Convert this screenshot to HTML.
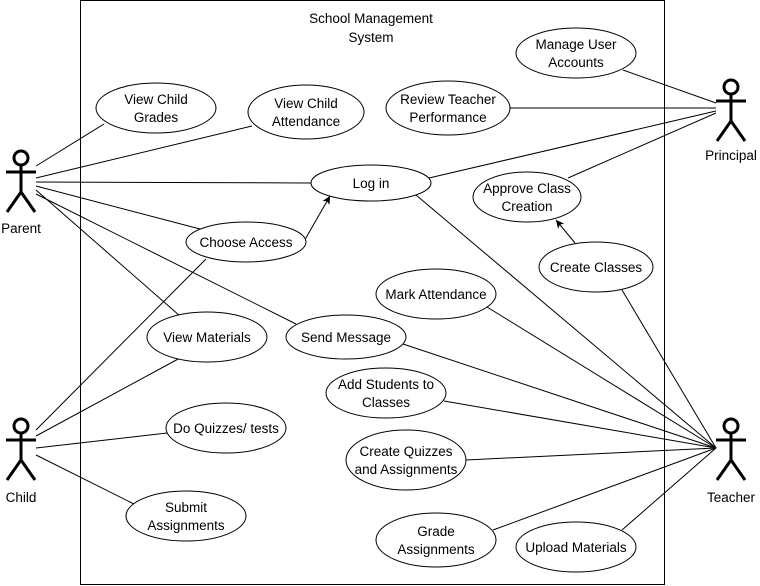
<!DOCTYPE html>
<html><head><style>
html,body{margin:0;padding:0;background:#fff}
svg{display:block}
text{font-family:"Liberation Sans",sans-serif;font-size:13.5px;fill:#000}
</style></head><body>
<svg width="760" height="586" viewBox="0 0 760 586" xmlns="http://www.w3.org/2000/svg">
<defs><marker id="a" markerWidth="10" markerHeight="10" refX="9" refY="5" orient="auto" markerUnits="userSpaceOnUse"><path d="M1,1 L9,5 L1,9 L3,5 Z" fill="#000"/></marker></defs>
<rect x="80.5" y="0.5" width="584" height="584" fill="none" stroke="#000"/>
<text x="371" y="23" text-anchor="middle">School Management</text>
<text x="371" y="42" text-anchor="middle">System</text>
<g stroke="#000" stroke-width="1" fill="none">
<!-- parent lines -->
<line x1="36" y1="166" x2="104" y2="124"/>
<line x1="36" y1="178" x2="252" y2="126"/>
<line x1="36" y1="182" x2="311" y2="183"/>
<line x1="36" y1="186" x2="200" y2="229"/>
<line x1="36" y1="190" x2="180" y2="316"/>
<line x1="36" y1="194" x2="296" y2="324"/>
<!-- child lines -->
<line x1="36" y1="430" x2="206" y2="259"/>
<line x1="36" y1="436" x2="180" y2="358"/>
<line x1="36" y1="448" x2="167" y2="433"/>
<line x1="36" y1="455" x2="134" y2="504"/>
<!-- principal -->
<line x1="716" y1="103" x2="623" y2="70"/>
<line x1="716" y1="108" x2="510" y2="108"/>
<line x1="716" y1="111" x2="429" y2="178"/>
<line x1="716" y1="113" x2="568" y2="178"/>
<!-- teacher -->
<line x1="716" y1="448" x2="416" y2="195"/>
<line x1="716" y1="448" x2="622" y2="290"/>
<line x1="716" y1="448" x2="487" y2="307"/>
<line x1="716" y1="448" x2="403" y2="344"/>
<line x1="716" y1="448" x2="444" y2="401"/>
<line x1="716" y1="448" x2="466" y2="460"/>
<line x1="716" y1="448" x2="493" y2="530"/>
<line x1="716" y1="448" x2="622" y2="530"/>
<!-- arrows -->
<line x1="303" y1="243" x2="330" y2="196" marker-end="url(#a)"/>
<line x1="575" y1="243" x2="556" y2="220" marker-end="url(#a)"/>
</g>
<g stroke="#000" fill="#fff">
<ellipse cx="156" cy="108" rx="60" ry="25"/>
<ellipse cx="306" cy="112" rx="58" ry="27"/>
<ellipse cx="576" cy="53" rx="60" ry="25"/>
<ellipse cx="448" cy="108" rx="62" ry="27"/>
<ellipse cx="371" cy="183" rx="60" ry="18"/>
<ellipse cx="527" cy="197" rx="54" ry="25"/>
<ellipse cx="246" cy="242" rx="60" ry="20"/>
<ellipse cx="596" cy="267" rx="57" ry="25"/>
<ellipse cx="436" cy="294" rx="60" ry="25"/>
<ellipse cx="207" cy="337" rx="60" ry="25"/>
<ellipse cx="346" cy="337" rx="60" ry="22"/>
<ellipse cx="386" cy="393" rx="60" ry="25"/>
<ellipse cx="226" cy="428" rx="60" ry="25"/>
<ellipse cx="406" cy="460" rx="60" ry="30"/>
<ellipse cx="186" cy="516" rx="60" ry="25"/>
<ellipse cx="436" cy="540" rx="60" ry="27"/>
<ellipse cx="576" cy="547" rx="60" ry="25"/>
</g>
<g text-anchor="middle">
<text x="156" y="104">View Child</text><text x="156" y="122">Grades</text>
<text x="306" y="108">View Child</text><text x="306" y="126">Attendance</text>
<text x="576" y="49">Manage User</text><text x="576" y="67">Accounts</text>
<text x="448" y="104">Review Teacher</text><text x="448" y="122">Performance</text>
<text x="371" y="188">Log in</text>
<text x="527" y="193">Approve Class</text><text x="527" y="211">Creation</text>
<text x="246" y="247">Choose Access</text>
<text x="596" y="272">Create Classes</text>
<text x="436" y="299">Mark Attendance</text>
<text x="207" y="342">View Materials</text>
<text x="346" y="342">Send Message</text>
<text x="386" y="389">Add Students to</text><text x="386" y="407">Classes</text>
<text x="226" y="433">Do Quizzes/ tests</text>
<text x="406" y="456">Create Quizzes</text><text x="406" y="474">and Assignments</text>
<text x="186" y="512">Submit</text><text x="186" y="530">Assignments</text>
<text x="436" y="536">Grade</text><text x="436" y="554">Assignments</text>
<text x="576" y="552">Upload Materials</text>
</g>
<g stroke="#000" stroke-width="3" fill="none">
<g transform="translate(21,0)"><circle cx="0" cy="158" r="7"/><line x1="0" y1="165" x2="0" y2="192"/><line x1="-15" y1="172" x2="15" y2="172"/><line x1="0" y1="192" x2="-14" y2="212"/><line x1="0" y1="192" x2="14" y2="212"/></g>
<g transform="translate(21,268)"><circle cx="0" cy="158" r="7"/><line x1="0" y1="165" x2="0" y2="192"/><line x1="-15" y1="172" x2="15" y2="172"/><line x1="0" y1="192" x2="-14" y2="212"/><line x1="0" y1="192" x2="14" y2="212"/></g>
<g transform="translate(731,-71)"><circle cx="0" cy="158" r="7"/><line x1="0" y1="165" x2="0" y2="192"/><line x1="-15" y1="172" x2="15" y2="172"/><line x1="0" y1="192" x2="-14" y2="212"/><line x1="0" y1="192" x2="14" y2="212"/></g>
<g transform="translate(731,268)"><circle cx="0" cy="158" r="7"/><line x1="0" y1="165" x2="0" y2="192"/><line x1="-15" y1="172" x2="15" y2="172"/><line x1="0" y1="192" x2="-14" y2="212"/><line x1="0" y1="192" x2="14" y2="212"/></g>
</g>
<g text-anchor="middle">
<text x="21" y="233">Parent</text>
<text x="21" y="502">Child</text>
<text x="731" y="160">Principal</text>
<text x="731" y="502">Teacher</text>
</g>
</svg>
</body></html>
